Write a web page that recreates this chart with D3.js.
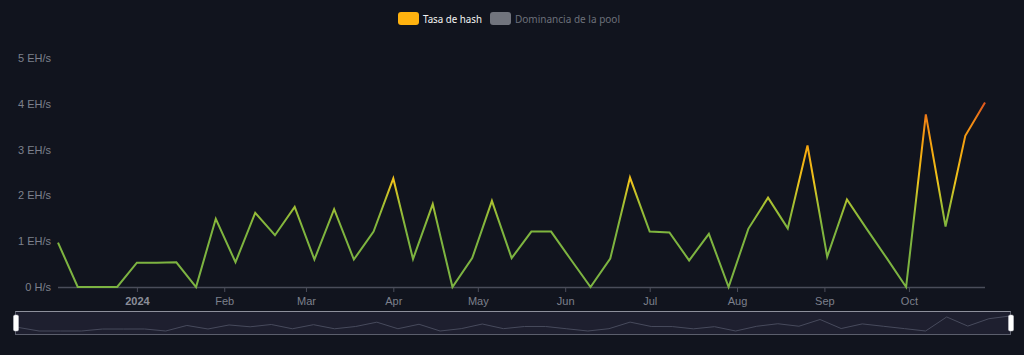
<!DOCTYPE html>
<html>
<head>
<meta charset="utf-8">
<script src="https://cdn.jsdelivr.net/npm/d3@7"></script>
<style>
  html, body { margin: 0; padding: 0; background: #11141e; }
  svg { display: block; font-family: "Noto Sans", "Open Sans", sans-serif; }
</style>
</head>
<body>
<svg id="chart" width="1024" height="355"></svg>
<script>
// ---- data ----
const startDate = "2023-12-04";   // first weekly sample (Monday)
const hashrate = [0.97, 0, 0, 0, 0.53, 0.53, 0.54, 0, 1.49, 0.54, 1.62, 1.13, 1.75, 0.60, 1.70, 0.60,
  1.21, 2.37, 0.61, 1.81, 0, 0.63, 1.88, 0.63, 1.21, 1.21, 0.60, 0, 0.62, 2.39, 1.21, 1.19,
  0.58, 1.16, 0, 1.27, 1.95, 1.28, 3.09, 0.66, 1.91, 1.27, 0.64, 0, 3.77, 1.32, 3.30, 4.03];
const yTicks = [0, 1, 2, 3, 4, 5];
const yTickLabels = ["0 H/s", "1 EH/s", "2 EH/s", "3 EH/s", "4 EH/s", "5 EH/s"];
const xTickDates = ["2024-01-01", "2024-02-01", "2024-03-01", "2024-04-01", "2024-05-01", "2024-06-01",
  "2024-07-01", "2024-08-01", "2024-09-01", "2024-10-01"];
const xTickLabels = ["2024", "Feb", "Mar", "Apr", "May", "Jun", "Jul", "Aug", "Sep", "Oct"];
const legendLabels = ["Tasa de hash", "Dominancia de la pool"];

// ---- build ----
const parse = d3.utcParse("%Y-%m-%d");
const t0 = parse(startDate);
const data = hashrate.map((v, i) => ({ date: d3.utcDay.offset(t0, 7 * i), v }));

const svg = d3.select("#chart");
const W = 1024, H = 355;
const m = { left: 58, right: 39, top: 58, bottom: 68 };

const x = d3.scaleUtc()
  .domain(d3.extent(data, d => d.date))
  .range([m.left, W - m.right]);
const y = d3.scaleLinear().domain([0, 5]).range([H - m.bottom, m.top]);

// gradient for line by value
const defs = svg.append("defs");
const grad = defs.append("linearGradient")
  .attr("id", "lineGrad")
  .attr("gradientUnits", "userSpaceOnUse")
  .attr("x1", 0).attr("x2", 0)
  .attr("y1", y(0)).attr("y2", y(4.05));
const stops = [
  [0, "#7cb342"], [1.3, "#7fb53e"], [1.8, "#a4c033"], [2.3, "#eec41c"],
  [3.0, "#f5a910"], [3.6, "#f28a14"], [4.05, "#e0521e"]
];
stops.forEach(([v, c]) => grad.append("stop").attr("offset", v / 4.05).attr("stop-color", c));

// y axis labels
const yAxis = d3.axisLeft(y).tickValues(yTicks)
  .tickFormat((d, i) => yTickLabels[i]).tickSize(0).tickPadding(7);
const gy = svg.append("g").attr("transform", `translate(${m.left},0)`).call(yAxis);
gy.select(".domain").remove();
gy.selectAll("text").attr("fill", "#7d808c").style("font-size", "11px");

// x axis
const xAxis = d3.axisBottom(x)
  .tickValues(xTickDates.map(parse))
  .tickFormat((d, i) => xTickLabels[i])
  .tickSize(5).tickSizeOuter(0).tickPadding(5);
const gx = svg.append("g").attr("transform", `translate(0,${y(0)})`).call(xAxis);
gx.select(".domain").attr("stroke", "#4a4d5a").attr("stroke-width", 1.3)
  .attr("d", `M${m.left},0.5H${W - m.right}`);
gx.selectAll(".tick line").attr("stroke", "#4a4d5a");
gx.selectAll("text").attr("fill", "#7d808c").style("font-size", "11px");
gx.selectAll(".tick").filter((d, i) => i === 0).select("text")
  .style("font-weight", "bold").attr("fill", "#8a8d99");

// line
const line = d3.line().x(d => x(d.date)).y(d => y(d.v));
svg.append("path").datum(data)
  .attr("d", line)
  .attr("fill", "none")
  .attr("stroke", "url(#lineGrad)")
  .attr("stroke-width", 2)
  .attr("stroke-linejoin", "miter");

// legend
const lg = svg.append("g");
lg.append("rect").attr("x", 398).attr("y", 12).attr("width", 21).attr("height", 13).attr("rx", 3)
  .attr("fill", "#ffb20f");
lg.append("text").attr("x", 423).attr("y", 22.5).text(legendLabels[0])
  .attr("fill", "#f4f4f4").style("font-size", "11px")
  .attr("textLength", 59).attr("lengthAdjust", "spacingAndGlyphs");
lg.append("rect").attr("x", 490).attr("y", 12).attr("width", 21).attr("height", 13).attr("rx", 3)
  .attr("fill", "#71747d");
lg.append("text").attr("x", 515).attr("y", 22.5).text(legendLabels[1])
  .attr("fill", "#6c707a").style("font-size", "11px")
  .attr("textLength", 105).attr("lengthAdjust", "spacingAndGlyphs");

// data zoom slider
const sx = d3.scaleUtc().domain(x.domain()).range([18, 1010]);
const sy = d3.scaleLinear().domain([0, d3.max(hashrate)]).range([331, 316]);
const sg = svg.append("g");
sg.append("rect").attr("x", 15.5).attr("y", 311.5).attr("width", 995).attr("height", 23)
  .attr("fill", "#1e1f2f").attr("stroke", "#5b5e6c").attr("stroke-width", 1);
sg.append("line").attr("x1", 15.5).attr("x2", 1010.5).attr("y1", 311.5).attr("y2", 311.5)
  .attr("stroke", "#8e909c");
sg.append("path").datum(data)
  .attr("d", d3.line().x(d => sx(d.date)).y(d => sy(d.v)))
  .attr("fill", "none").attr("stroke", "#474a5c").attr("stroke-width", 1);
[13.5, 1008.5].forEach(hx => {
  sg.append("rect").attr("x", hx).attr("y", 315).attr("width", 5).attr("height", 16).attr("rx", 1.5)
    .attr("fill", "#ffffff").attr("stroke", "#c9cad2").attr("stroke-width", 0.5);
});
</script>
</body>
</html>
